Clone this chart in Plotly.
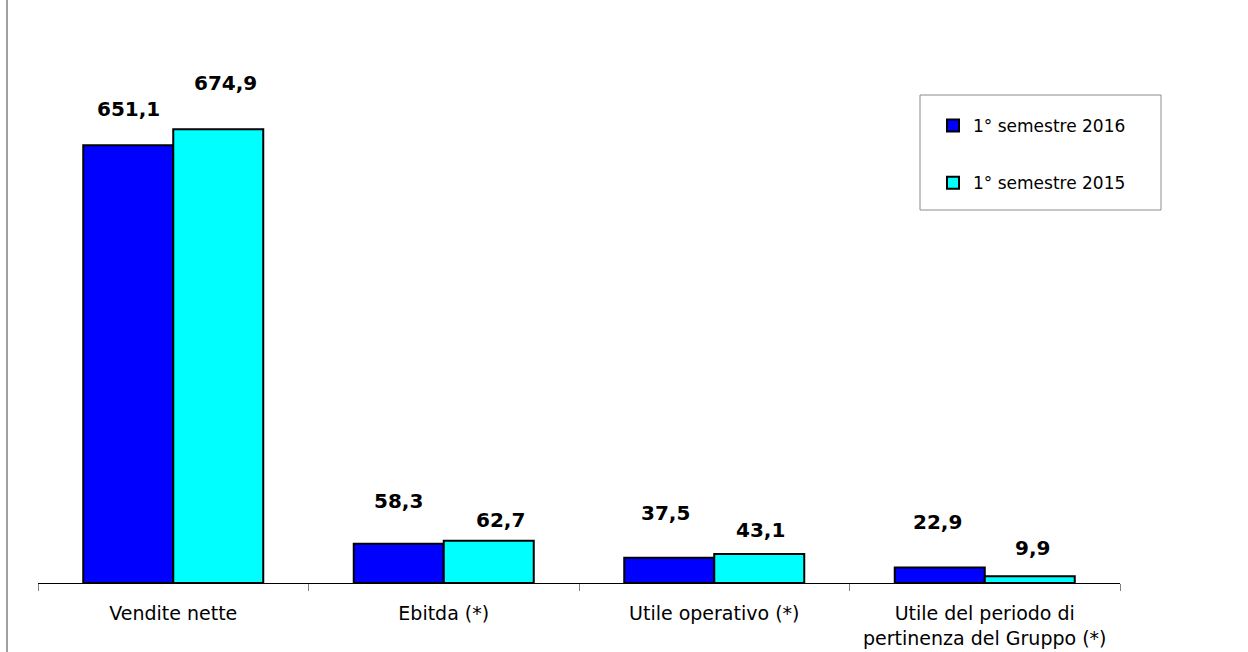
import plotly.graph_objects as go

categories = ["Vendite nette", "Ebitda (*)", "Utile operativo (*)",
              "Utile del periodo di<br>pertinenza del Gruppo (*)"]
series_names = ["1° semestre 2016", "1° semestre 2015"]
values_2016 = [651.1, 58.3, 37.5, 22.9]
values_2015 = [674.9, 62.7, 43.1, 9.9]
labels_2016 = ["651,1", "58,3", "37,5", "22,9"]
labels_2015 = ["674,9", "62,7", "43,1", "9,9"]

# label placement offsets (pixels) mimicking original layout
dx_2016 = [0, 0, -4, -2]
dy_2016 = [36, 43, 45, 46]
dx_2015 = [7, 12, 1, 3]
dy_2015 = [46, 21, 24, 28]

colors = ["#0000FF", "#00FFFF"]

fig = go.Figure()
for name, vals, col in zip(series_names, [values_2016, values_2015], colors):
    fig.add_trace(go.Bar(
        x=categories, y=vals, name=name, legendgroup=name,
        marker=dict(color=col, line=dict(color="black", width=2)),
        hoverinfo="skip",
    ))

annotations = []
for i, c in enumerate(categories):
    annotations.append(dict(x=c, y=values_2016[i], xref="x", yref="y",
                            text="<b>" + labels_2016[i] + "</b>", showarrow=False,
                            xshift=-45 + dx_2016[i], yshift=dy_2016[i],
                            xanchor="center", yanchor="middle",
                            font=dict(family="DejaVu Sans", size=20, color="black")))
    annotations.append(dict(x=c, y=values_2015[i], xref="x", yref="y",
                            text="<b>" + labels_2015[i] + "</b>", showarrow=False,
                            xshift=45 + dx_2015[i], yshift=dy_2015[i],
                            xanchor="center", yanchor="middle",
                            font=dict(family="DejaVu Sans", size=20, color="black")))

L, R, T, B = 38, 128, 45, 69
W, H = 1248, 652
pw, ph = W - L - R, H - T - B


def px(xp):
    return (xp - L) / pw


def py(yp):
    return (H - B - yp) / ph


shapes = [
    dict(type="line", xref="paper", yref="paper",
         x0=px(7), x1=px(7), y0=py(H), y1=py(0),
         line=dict(color="#a0a0a0", width=2)),
    dict(type="rect", xref="paper", yref="paper",
         x0=px(920), x1=px(1161), y0=py(210), y1=py(95),
         line=dict(color="#8c8c8c", width=1), fillcolor="rgba(0,0,0,0)"),
]

fig.update_layout(
    width=W, height=H,
    margin=dict(l=L, r=R, t=T, b=B, autoexpand=False),
    paper_bgcolor="white", plot_bgcolor="white",
    barmode="group", bargap=0.3346, bargroupgap=0,
    font=dict(family="DejaVu Sans", color="black"),
    showlegend=True,
    legend=dict(x=px(933), y=py(108), xanchor="left", yanchor="top",
                bgcolor="rgba(0,0,0,0)", borderwidth=0,
                font=dict(family="DejaVu Sans", size=17, color="black"),
                tracegroupgap=32, traceorder="grouped"),
    xaxis=dict(showline=True, linecolor="black", linewidth=1,
               ticks="outside", tickson="boundaries", ticklen=7,
               tickcolor="#808080", tickwidth=1,
               tickfont=dict(family="DejaVu Sans", size=19, color="black"),
               ticklabelstandoff=13, automargin=False,
               showgrid=False, zeroline=False, fixedrange=True),
    yaxis=dict(range=[0, 800], visible=False, showgrid=False, zeroline=False,
               automargin=False),
    annotations=annotations,
    shapes=shapes,
)

fig.write_html("out.html")
